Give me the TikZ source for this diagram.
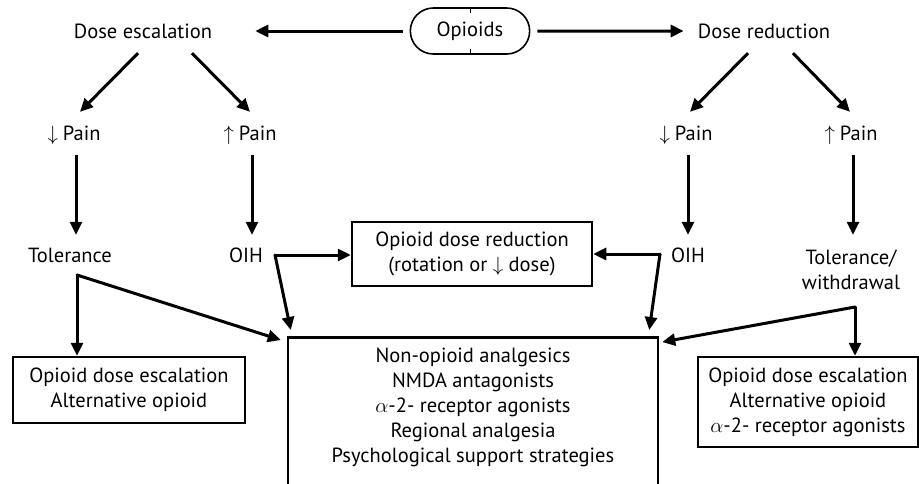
\documentclass[tikz,border=0pt]{standalone}
\usepackage{fontspec}
\setmainfont{PT Sans}
\usetikzlibrary{arrows.meta,shapes.misc}

\tikzset{
  txt/.style={font=\fontsize{20.5}{25}\selectfont, inner sep=0pt, minimum height=40pt, align=center},
  box/.style={draw, line width=2.5pt, font=\fontsize{20.5}{25}\selectfont, inner sep=0pt, align=center},
  arr/.style={-{Triangle[length=13pt,width=12pt]}, line width=3pt},
}

\begin{document}
\begin{tikzpicture}[x=1pt,y=-1pt]
            \clip (0,0) rectangle (919,483);
            % top row
            \node[draw, rounded rectangle, line width=1.6pt, minimum width=126pt, minimum height=46pt, font=\fontsize{20.5}{25}\selectfont] (opioids) at (470,31) {Opioids};
            \draw[line width=1pt] (opioids.north) -- ++(0,6) (opioids.south) -- ++(0,-6);
            \node[txt] (esc) at (143,31) {Dose escalation};
            \node[txt] (red) at (764,31) {Dose reduction};
            \draw[arr, shorten <=7pt, shorten >=43pt] (opioids) -- (esc);
            \draw[arr, shorten <=7pt, shorten >=14pt] (opioids) -- (red);
            % pain
            \node[txt] (ldown) at (74,135) {$\big\downarrow$\hspace{5pt}Pain};
            \node[txt] (lup) at (250,135) {$\big\uparrow$\hspace{5pt}Pain};
            \node[txt] (rdown) at (686,135) {$\big\downarrow$\hspace{5pt}Pain};
            \node[txt] (rup) at (851,135) {$\big\uparrow$\hspace{5pt}Pain};
            \draw[arr] ([shift={(-5,2)}]esc.south) -- ([shift={(6,-3)}]ldown.north);
            \draw[arr] ([shift={(49,2)}]esc.south) -- ([shift={(0,-3)}]lup.north);
            \draw[arr] ([shift={(-16,2)}]red.south) -- ([shift={(4,-3)}]rdown.north);
            \draw[arr] ([shift={(29,2)}]red.south) -- ([shift={(-1,-3)}]rup.north);
            % tolerance / OIH
            \node[txt] (tolL) at (70,255) {Tolerance};
            \node[txt] (oihL) at (246,255) {OIH};
            \node[txt] (oihR) at (688,255) {OIH};
            \node[txt] (tolR) at (851,270) {Tolerance/\\withdrawal};
            \draw[arr] ([xshift=2pt]ldown.south) -- ([xshift=2pt]ldown.south |- oihL.north);
            \draw[arr] ([xshift=2pt]lup.south) -- ([xshift=2pt]lup.south |- oihL.north);
            \draw[arr] ([xshift=2pt]rdown.south) -- ([xshift=2pt]rdown.south |- oihL.north);
            \draw[arr] ([xshift=2pt]rup.south) -- ([xshift=2pt]rup.south |- oihL.north);
            % boxes
            \node[box, minimum width=240pt, minimum height=64pt] (reduce) at (472,254) {Opioid dose reduction\\(rotation or $\downarrow$ dose)};
            \node[box, minimum width=370pt, minimum height=200pt, anchor=north] (alt) at (473,336) {};
            \node[txt, anchor=north] (alttxt) at ([yshift=-12pt]alt.north) {Non-opioid analgesics\\NMDA antagonists\\$\alpha$-2- receptor agonists\\Regional analgesia\\Psychological support strategies};
            \node[box, minimum width=232pt, minimum height=66pt] (lbox) at (129,390) {Opioid dose escalation\\Alternative opioid};
            \node[box, minimum width=220pt, minimum height=90pt] (rbox) at (808,402) {Opioid dose escalation\\Alternative opioid\\$\alpha$-2- receptor agonists};
            % branching connectors
            \coordinate (oihLc) at (275,255);
            \coordinate (oihRc) at (660,254);
            \coordinate (tolLc) at (77,275);
            \coordinate (tolRc) at (855,307);
            \draw[arr, line cap=round] (oihLc) -- (reduce.west |- oihLc);
            \draw[arr, line cap=round] (oihLc) -- ([shift={(4,-6)}]alt.north west);
            \draw[arr, line cap=round] (oihRc) -- (reduce.east |- oihRc);
            \draw[arr, line cap=round] (oihRc) -- ([shift={(-10,-6)}]alt.north east);
            \draw[arr, line cap=round] (tolLc) -- (tolLc |- lbox.north);
            \draw[arr, line cap=round] (tolLc) -- ([shift={(-6,4)}]alt.north west);
            \draw[arr, line cap=round] (tolRc) -- (tolRc |- rbox.north);
            \draw[arr, line cap=round] (tolRc) -- ([shift={(3,6)}]alt.north east);
        \end{tikzpicture}
\end{document}
